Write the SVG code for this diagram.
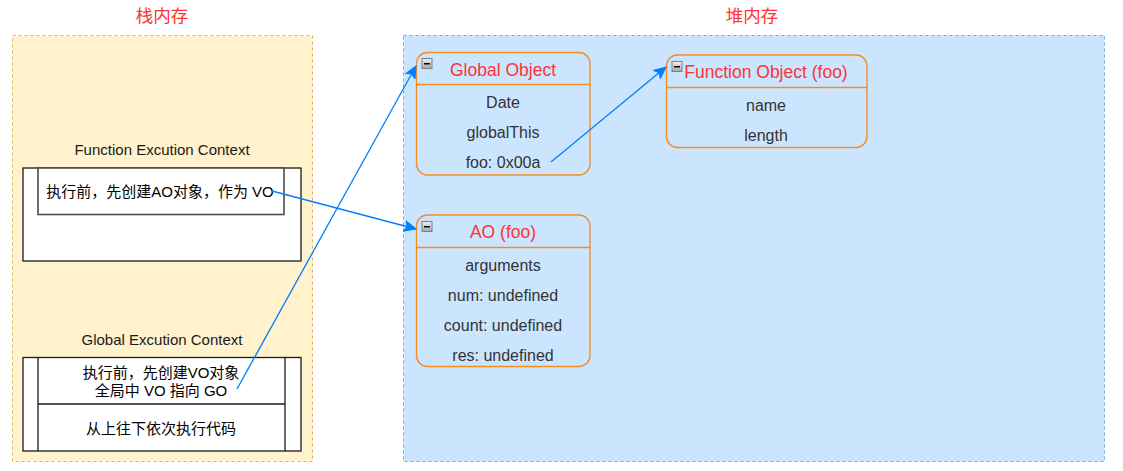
<svg xmlns="http://www.w3.org/2000/svg" width="1123" height="471" viewBox="0 0 1123 471">
<defs>
<style>
text{font-family:"Liberation Sans",Arial,"Noto Sans CJK SC",sans-serif;dominant-baseline:central;text-anchor:middle}
.title{font-size:17.5px;fill:#ff3333}
.lbl{font-size:15px;fill:#1a1a1a}
.ctx{font-size:15px;fill:#000}
.otitle{font-size:17.5px;fill:#ff3333}
.item{font-size:16px;fill:#333}
.obj{fill:none;stroke:#f58a1f;stroke-width:1.3}
.box{fill:#fff;stroke:#1a1a1a;stroke-width:1.3}
.conn{fill:none;stroke:#007fff;stroke-width:1.3}
</style>
<linearGradient id="ig" x1="0" y1="0" x2="0" y2="1"><stop offset="0" stop-color="#f2f2f2"/><stop offset="1" stop-color="#a6a6a6"/></linearGradient>
<g id="minus"><rect x="0.5" y="0.5" width="10" height="10" fill="url(#ig)" stroke="#808080"/><rect x="2.5" y="5" width="6" height="1.5" fill="#000"/></g>
<marker id="arr" markerUnits="userSpaceOnUse" markerWidth="14" markerHeight="12" viewBox="0 0 14 12" refX="12" refY="6" orient="auto"><path d="M0,0.5 L12,6 L0,11.5 L3,6 Z" fill="#007fff" stroke="#007fff" stroke-width="1"/></marker>
</defs>
<rect width="1123" height="471" fill="#fff"/>

<g id="stack">
<rect x="12.5" y="35.5" width="300" height="426" fill="#fff2cc" stroke="#d6b656" stroke-dasharray="3,3"/>
<text class="title" x="162" y="16">栈内存</text>
</g>
<g id="heap">
<rect x="403.5" y="35.5" width="701" height="426" fill="#cce5ff" stroke="#7ea6e0" stroke-dasharray="3,3"/>
<text class="title" x="752" y="16">堆内存</text>
</g>

<g id="fec">
<text class="lbl" x="162" y="149">Function Excution Context</text>
<rect class="box" x="23" y="168" width="278" height="93"/>
<rect x="38" y="168" width="246" height="46.5" fill="#fff" stroke="#4d4d4d" stroke-width="1.6"/>
<text class="ctx" x="160" y="191">执行前，先创建AO对象，作为 VO</text>
</g>

<g id="gec">
<text class="lbl" x="162" y="339">Global Excution Context</text>
<rect class="box" x="23" y="357.5" width="278" height="93.5"/>
<line x1="38" y1="357.5" x2="38" y2="451" stroke="#1a1a1a" stroke-width="1.3"/>
<line x1="285" y1="357.5" x2="285" y2="451" stroke="#1a1a1a" stroke-width="1.3"/>
<line x1="38" y1="404" x2="285" y2="404" stroke="#1a1a1a" stroke-width="1.3"/>
<text class="ctx" x="161" y="372">执行前，先创建VO对象</text>
<text class="ctx" x="161" y="390">全局中 VO 指向 GO</text>
<text class="ctx" x="161" y="428">从上往下依次执行代码</text>
</g>

<g id="go">
<rect class="obj" x="416.5" y="52.5" width="173.5" height="122.5" rx="11"/>
<line x1="416.5" y1="84.5" x2="590" y2="84.5" stroke="#f58a1f" stroke-width="1.3"/>
<use href="#minus" x="421.5" y="58"/>
<text class="otitle" x="503" y="70">Global Object</text>
<text class="item" x="503" y="102">Date</text>
<text class="item" x="503" y="132">globalThis</text>
<text class="item" x="503" y="162">foo: 0x00a</text>
</g>

<g id="ao">
<rect class="obj" x="416.5" y="215" width="173.5" height="151.5" rx="11"/>
<line x1="416.5" y1="247.5" x2="590" y2="247.5" stroke="#f58a1f" stroke-width="1.3"/>
<use href="#minus" x="421.5" y="221"/>
<text class="otitle" x="503" y="232">AO (foo)</text>
<text class="item" x="503" y="265.5">arguments</text>
<text class="item" x="503" y="295.5">num: undefined</text>
<text class="item" x="503" y="325.5">count: undefined</text>
<text class="item" x="503" y="355">res: undefined</text>
</g>

<g id="fo">
<rect class="obj" x="666.5" y="55" width="200.5" height="92.5" rx="11"/>
<line x1="666.5" y1="87.5" x2="867" y2="87.5" stroke="#f58a1f" stroke-width="1.3"/>
<use href="#minus" x="671.5" y="61"/>
<text class="otitle" x="766" y="72">Function Object (foo)</text>
<text class="item" x="766" y="105.5">name</text>
<text class="item" x="766" y="135.5">length</text>
</g>

<g id="connectors">
<path class="conn" d="M237,389 L416,66" marker-end="url(#arr)"/>
<path class="conn" d="M272,191 L416,229" marker-end="url(#arr)"/>
<path class="conn" d="M551,162 L666,67" marker-end="url(#arr)"/>
</g>
</svg>
